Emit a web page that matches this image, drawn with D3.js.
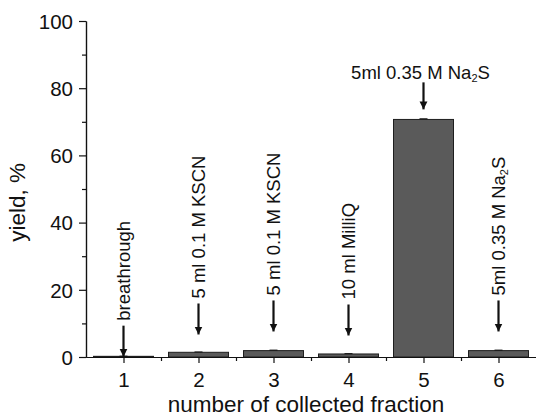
<!DOCTYPE html>
<html lang="en">
<head>
    <meta charset="UTF-8">
    <title>Yield per collected fraction</title>
    <script src="https://d3js.org/d3.v7.min.js"></script>
    <style>
        body {
            margin: 0;
            background: #fff;
        }
        svg text {
            font-family: "Liberation Sans", Arial, sans-serif;
            fill: #111;
        }
        .tick-label { font-size: 20.5px; }
        .axis-title { font-size: 22.5px; }
        .annot { font-size: 18.5px; }
    </style>
</head>
<body>
    <div id="chart"></div>

    <script>
        // Data
        const fractions = [1, 2, 3, 4, 5, 6];
        const yieldValues = [0.2, 1.4, 1.9, 0.9, 70.7, 1.9];
        const yieldErrors = [0.05, 0.1, 0.15, 0.1, 0.2, 0.15];
        const yTicks = [0, 20, 40, 60, 80, 100];
        const yMinorTicks = [10, 30, 50, 70, 90];
        const xMinorTicks = [1.5, 2.5, 3.5, 4.5, 5.5];

        // annotation text (subscript marked with _), and where each arrow tip points (in yield units)
        const annotTexts = ['breathrough', '5 ml 0.1 M KSCN', '5 ml 0.1 M KSCN', '10 ml MilliQ', '5ml 0.35 M Na_2S', '5ml 0.35 M Na_2S'];
        const annotTips = [0.1, 6.7, 7.6, 6.4, 73.7, 7.6];
        const annotRotated = [true, true, true, true, false, true];

        const width = 536, height = 418;
        const margin = { top: 21, right: 0, bottom: 61, left: 86 };

        const svg = d3.select('#chart').append('svg')
            .attr('width', width)
            .attr('height', height);

        const x = d3.scaleLinear()
            .domain([0.5, 6.5])
            .range([margin.left, width - margin.right]);

        const y = d3.scaleLinear()
            .domain([0, 100])
            .range([height - margin.bottom, margin.top]);

        // bars are 0.8 of a fraction wide
        const barW = x(1.3) - x(0.5);

        // arrowhead
        svg.append('defs').append('marker')
            .attr('id', 'head')
            .attr('viewBox', '0 0 10 10')
            .attr('refX', 10).attr('refY', 5)
            .attr('markerWidth', 3.6).attr('markerHeight', 4.5)
            .attr('markerUnits', 'strokeWidth')
            .attr('orient', 'auto')
            .append('path')
            .attr('d', 'M0,0 L10,5 L0,10 Z')
            .attr('fill', '#111');

        // Bars
        svg.selectAll('.bar')
            .data(fractions)
            .enter().append('rect')
            .attr('class', 'bar')
            .attr('x', (d, i) => x(d) - barW / 2)
            .attr('y', (d, i) => y(yieldValues[i]))
            .attr('width', barW)
            .attr('height', (d, i) => y(0) - y(yieldValues[i]))
            .attr('fill', '#5a5a5a')
            .attr('stroke', '#1e1e1e')
            .attr('stroke-width', 1);

        // tiny error caps
        svg.selectAll('.err')
            .data(fractions)
            .enter().append('line')
            .attr('x1', d => x(d) - 4)
            .attr('x2', d => x(d) + 4)
            .attr('y1', (d, i) => y(yieldValues[i] + yieldErrors[i]))
            .attr('y2', (d, i) => y(yieldValues[i] + yieldErrors[i]))
            .attr('stroke', '#111')
            .attr('stroke-width', 1);

        // Y axis
        const yAxis = svg.append('g')
            .attr('transform', `translate(${margin.left},0)`)
            .call(d3.axisLeft(y).tickValues(yTicks).tickSize(7).tickPadding(6).tickSizeOuter(0));
        yAxis.selectAll('text').attr('class', 'tick-label').attr('dy', '0.36em');
        svg.append('g')
            .attr('transform', `translate(${margin.left},0)`)
            .call(d3.axisLeft(y).tickValues(yMinorTicks).tickSize(4).tickFormat('').tickSizeOuter(0));

        // X axis
        const xAxis = svg.append('g')
            .attr('transform', `translate(0,${y(0)})`)
            .call(d3.axisBottom(x).tickValues(fractions).tickSize(6).tickPadding(9).tickSizeOuter(0)
                .tickFormat(d3.format('d')));
        xAxis.selectAll('text').attr('class', 'tick-label');
        svg.append('g')
            .attr('transform', `translate(0,${y(0)})`)
            .call(d3.axisBottom(x).tickValues(xMinorTicks).tickSize(4).tickFormat('').tickSizeOuter(0));

        svg.selectAll('.domain, .tick line')
            .attr('stroke', '#111')
            .attr('stroke-width', 1.2);

        // Axis titles
        svg.append('text')
            .attr('class', 'axis-title')
            .attr('text-anchor', 'middle')
            .attr('x', 306)
            .attr('y', 412)
            .text('number of collected fraction');

        svg.append('text')
            .attr('class', 'axis-title')
            .attr('text-anchor', 'middle')
            .attr('transform', `translate(25,${y(46)}) rotate(-90)`)
            .text('yield, %');

        // write text with "_2" subscripts
        function fillText(sel, str) {
            const parts = str.split('_');
            sel.append('tspan').text(parts[0]);
            for (let k = 1; k < parts.length; k++) {
                sel.append('tspan')
                    .attr('baseline-shift', '-28%')
                    .style('font-size', '11px')
                    .text(parts[k][0]);
                sel.append('tspan').text(parts[k].slice(1));
            }
        }

        // Annotations: arrow + label
        fractions.forEach((f, i) => {
            const tipY = y(annotTips[i]);
            const arrowLen = annotRotated[i] ? 31 : 27;
            const cx = x(f);
            svg.append('line')
                .attr('x1', cx).attr('x2', cx)
                .attr('y1', tipY - arrowLen)
                .attr('y2', tipY)
                .attr('stroke', '#111')
                .attr('stroke-width', 2.2)
                .attr('marker-end', 'url(#head)');

            const t = svg.append('text').attr('class', 'annot');
            if (annotRotated[i]) {
                t.attr('text-anchor', 'start')
                    .attr('transform', `translate(${cx + 6},${tipY - arrowLen - 5}) rotate(-90)`);
            } else {
                t.attr('text-anchor', 'middle')
                    .attr('x', cx - 3)
                    .attr('y', tipY - arrowLen - 3);
            }
            fillText(t, annotTexts[i]);
        });
    </script>
</body>
</html>
